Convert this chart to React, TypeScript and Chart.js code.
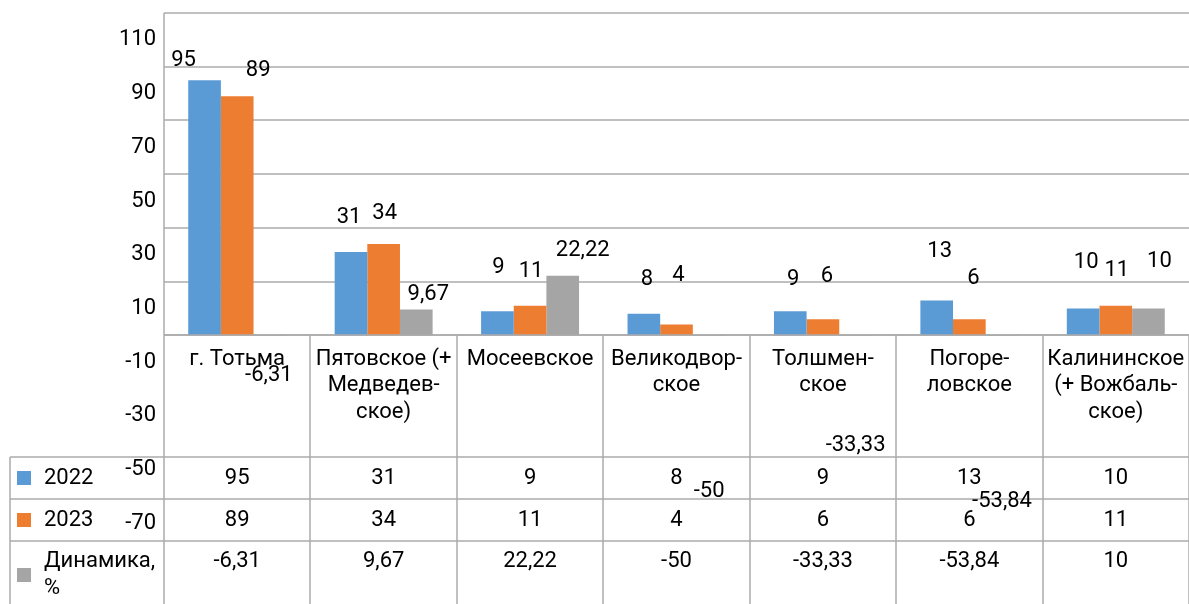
import React, { useEffect, useRef } from "react";
import { Chart, registerables } from "chart.js";

Chart.register(...registerables);

// ---- data ----
const categories: string[][] = [
  ["г. Тотьма"],
  ["Пятовское (+", "Медведев-", "ское)"],
  ["Мосеевское"],
  ["Великодвор-", "ское"],
  ["Толшмен-", "ское"],
  ["Погоре-", "ловское"],
  ["Калининское", "(+ Вожбаль-", "ское)"],
];
const values2022 = [95, 31, 9, 8, 9, 13, 10];
const values2023 = [89, 34, 11, 4, 6, 6, 11];
const dynamics = [-6.31, 9.67, 22.22, -50, -33.33, -53.84, 10];
const seriesNames: string[][] = [["2022"], ["2023"], ["Динамика,", "%"]];
const yTickLabels = [110, 90, 70, 50, 30, 10, -10, -30, -50, -70];
const gridValues = [0, 20, 40, 60, 80, 100, 120];

// ---- styles ----
const COLORS = ["#5B9BD5", "#ED7D31", "#A5A5A5"];
const GRID = "#ABABAB";
const FONT = "22px Roboto";
// data label offsets (dx, dy) relative to bar end, per series
const labelOffsets: number[][][] = [
  [[-21, -20], [-2, -35], [1, -44], [3, -34], [3, -32], [3, -49], [3, -46]],
  [[21, -26], [1, -31], [1, -34], [2, -49], [4, -43], [4, -41], [1, -35]],
  [[-1, 23], [12, -15], [20, -25], [0, 22], [0, 21], [0, 22], [11, -47]],
];
// table row boundaries
const TABLE_TOP = 457;
const ROW_LINES = [457, 499, 541];
const ROW_TEXT_Y = [478, 520, 561];

const fmt = (v: number) => String(v).replace(".", ",");

const tablePlugin = {
  id: "tablePlugin",
  beforeDatasetsDraw(chart: any) {
    const { ctx, chartArea, scales } = chart;
    const y = scales.y;
    ctx.save();
    ctx.strokeStyle = GRID;
    ctx.lineWidth = 1.5;
    gridValues.forEach((v) => {
      const py = Math.round(y.getPixelForValue(v));
      ctx.beginPath();
      ctx.moveTo(chartArea.left, py);
      ctx.lineTo(chartArea.right, py);
      ctx.stroke();
    });
    ctx.restore();
  },
  afterDatasetsDraw(chart: any) {
    const { ctx, chartArea, scales, width, height } = chart;
    const x = scales.x;
    const y = scales.y;
    const zeroY = Math.round(y.getPixelForValue(0));
    ctx.save();
    // white table background covers everything below zero
    ctx.fillStyle = "#fff";
    ctx.fillRect(0, zeroY + 1, width, height - zeroY);

    ctx.strokeStyle = GRID;
    ctx.lineWidth = 1.5;
    // zero line
    ctx.beginPath();
    ctx.moveTo(chartArea.left, zeroY);
    ctx.lineTo(chartArea.right, zeroY);
    ctx.stroke();
    // axis line
    ctx.beginPath();
    ctx.moveTo(chartArea.left, chartArea.top);
    ctx.lineTo(chartArea.left, height);
    ctx.stroke();
    // column separators
    const n = categories.length;
    const cw = (chartArea.right - chartArea.left) / n;
    for (let i = 1; i <= n; i++) {
      const px = Math.round(chartArea.left + cw * i);
      ctx.beginPath();
      ctx.moveTo(px, zeroY);
      ctx.lineTo(px, height);
      ctx.stroke();
    }
    // row lines
    ROW_LINES.forEach((ry) => {
      ctx.beginPath();
      ctx.moveTo(10, ry);
      ctx.lineTo(chartArea.right, ry);
      ctx.stroke();
    });
    // left border of legend column
    ctx.beginPath();
    ctx.moveTo(10, TABLE_TOP);
    ctx.lineTo(10, height);
    ctx.stroke();

    ctx.fillStyle = "#000";
    ctx.font = FONT;
    ctx.textBaseline = "middle";

    // category labels
    ctx.textAlign = "center";
    categories.forEach((lines, i) => {
      const cx = x.getPixelForValue(i);
      lines.forEach((ln, j) => {
        ctx.fillText(ln, cx, 359 + j * 26.5);
      });
    });

    // table values
    const all = [values2022, values2023, dynamics];
    all.forEach((arr, r) => {
      arr.forEach((v, i) => {
        ctx.fillText(fmt(v), x.getPixelForValue(i), ROW_TEXT_Y[r]);
      });
    });

    // legend column
    ctx.textAlign = "left";
    seriesNames.forEach((lines, r) => {
      ctx.fillStyle = COLORS[r];
      const my = lines.length > 1 ? 568 : ROW_TEXT_Y[r] - 7;
      ctx.fillRect(17, my, 14, 14);
      ctx.fillStyle = "#000";
      lines.forEach((ln, j) => {
        ctx.fillText(ln, 44, ROW_TEXT_Y[r] + j * 27);
      });
    });

    // y tick labels
    ctx.textAlign = "right";
    yTickLabels.forEach((t) => {
      ctx.fillText(String(t), 156, y.getPixelForValue(t));
    });

    // data labels
    ctx.textAlign = "center";
    chart.data.datasets.forEach((ds: any, di: number) => {
      const meta = chart.getDatasetMeta(di);
      meta.data.forEach((bar: any, i: number) => {
        const off = labelOffsets[di][i];
        ctx.fillText(fmt(ds.data[i]), bar.x + off[0], bar.y + off[1]);
      });
    });
    ctx.restore();
  },
};

export default function App() {
  const ref = useRef<HTMLCanvasElement | null>(null);
  useEffect(() => {
    if (!ref.current) return;
    const chart = new Chart(ref.current, {
      type: "bar",
      data: {
        labels: categories.map((c) => c.join(" ")),
        datasets: [
          { label: "2022", data: values2022, backgroundColor: COLORS[0] },
          { label: "2023", data: values2023, backgroundColor: COLORS[1] },
          { label: "Динамика, %", data: dynamics, backgroundColor: COLORS[2] },
        ],
      },
      options: {
        responsive: false,
        animation: false,
        devicePixelRatio: 1,
        layout: { padding: { left: 164, top: 13, right: 0, bottom: 0 } },
        datasets: { bar: { categoryPercentage: 0.669, barPercentage: 1 } },
        plugins: { legend: { display: false }, tooltip: { enabled: false } },
        scales: {
          x: { display: false },
          y: { display: false, min: -100, max: 120 },
        },
      },
      plugins: [tablePlugin],
    });
    return () => chart.destroy();
  }, []);
  return (
    <div style={{ position: "fixed", left: 0, top: 0, width: 1189, height: 604, background: "#fff" }}>
      <canvas ref={ref} width={1189} height={604} />
    </div>
  );
}
